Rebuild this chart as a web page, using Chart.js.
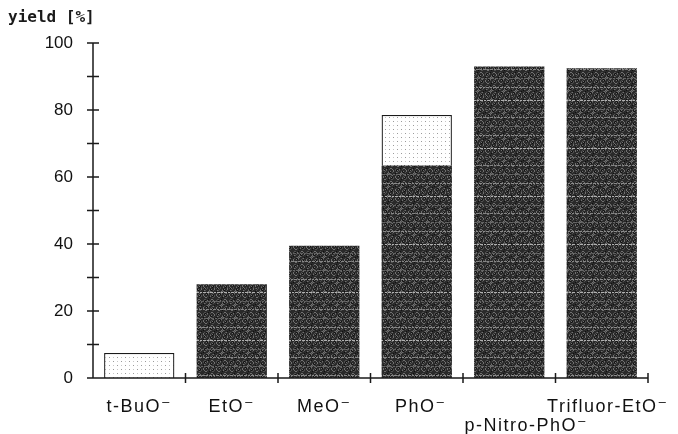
<!DOCTYPE html>
<html><head><meta charset="utf-8">
<script src="https://cdn.jsdelivr.net/npm/chart.js@4/dist/chart.umd.min.js"></script>
<style>html,body{margin:0;padding:0;background:#fff}#wrap{width:678px;height:434px}</style>
</head><body><div id="wrap"><canvas id="c"></canvas></div>
<script>
const categories = ['t-BuO⁻', 'EtO⁻', 'MeO⁻', 'PhO⁻', 'p-Nitro-PhO⁻', 'Trifluor-EtO⁻'];
const darkYield = [0, 28, 39.5, 63.5, 93, 92.5];
const lightYield = [7.5, 0, 0, 15, 0, 0];
const yTickLabels = [0, 20, 40, 60, 80, 100];
const yTitle = 'yield [%]';

function darkPattern() {
  const c = document.createElement('canvas');
  c.width = 64; c.height = 48;
  const g = c.getContext('2d');
  g.fillStyle = '#2a2a2a'; g.fillRect(0, 0, 64, 48);
  for (let y = 0; y < 48; y++) {
    for (let x = 0; x < 64; x++) {
      const h = (x * 73 + y * 151 + x * y * 7) % 13;
      if (h === 0 || h === 7) { g.fillStyle = '#707070'; g.fillRect(x, y, 1, 1); }
      else if (h === 3 || h === 10) { g.fillStyle = '#4e4e4e'; g.fillRect(x, y, 1, 1); }
      else if (h === 5) { g.fillStyle = '#101010'; g.fillRect(x, y, 1, 1); }
    }
  }
  [[4, '#b0b0b0'], [13, '#606060'], [21, '#858585'], [30, '#646464'], [39, '#8a8a8a']].forEach(([ry, col], k) => {
    for (let x = 0; x < 64; x++) {
      if ((x * 5 + k * 3) % 7 > 1) { g.fillStyle = col; g.fillRect(x, ry, 1, 1); }
    }
  });
  return g.createPattern(c, 'repeat');
}
function lightPattern() {
  const c = document.createElement('canvas');
  c.width = 8; c.height = 8;
  const g = c.getContext('2d');
  g.fillStyle = '#ffffff'; g.fillRect(0, 0, 8, 8);
  g.fillStyle = '#9a9a9a';
  g.fillRect(1, 1, 1, 1); g.fillRect(5, 5, 1, 1);
  g.fillStyle = '#c8c8c8';
  g.fillRect(5, 1, 1, 1); g.fillRect(1, 5, 1, 1);
  return g.createPattern(c, 'repeat');
}

const labelShift = [0, 0, 0, 4, 17, 6];
const labelLine = [0, 0, 0, 0, 1, 0];

const axisPlugin = {
  id: 'axisTicks',
  afterDatasetsDraw(chart) {
    const { ctx, scales: { x, y }, chartArea: a } = chart;
    ctx.save();
    ctx.strokeStyle = '#1a1a1a';
    ctx.lineWidth = 1.5;
    ctx.beginPath();
    ctx.moveTo(a.left, a.top); ctx.lineTo(a.left, a.bottom); ctx.lineTo(a.right, a.bottom);
    y.ticks.forEach(t => {
      const py = y.getPixelForValue(t.value);
      ctx.moveTo(a.left - 6, py); ctx.lineTo(a.left + 6, py);
    });
    for (let i = 1; i <= categories.length; i++) {
      const px = i < categories.length ? (x.getPixelForValue(i - 1) + x.getPixelForValue(i)) / 2 : a.right;
      ctx.moveTo(px, a.bottom - 5); ctx.lineTo(px, a.bottom + 5);
    }
    ctx.stroke();
    ctx.fillStyle = '#1a1a1a';
    ctx.font = 'bold 16px "DejaVu Sans Mono"';
    ctx.textBaseline = 'middle';
    ctx.textAlign = 'left';
    ctx.fillText(yTitle, 8, 18);
    ctx.fillStyle = '#111';
    ctx.font = '18px "Liberation Sans", "DejaVu Sans"';
    ctx.letterSpacing = '1.5px';
    ctx.textAlign = 'center';
    ctx.textBaseline = 'alphabetic';
    categories.forEach((c, i) => {
      const px = x.getPixelForValue(i) + labelShift[i];
      ctx.fillText(c, px, a.bottom + 34 + labelLine[i] * 19);
    });
    ctx.restore();
  }
};

new Chart(document.getElementById('c'), {
  type: 'bar',
  data: {
    labels: categories,
    datasets: [
      {
        label: 'dark', data: darkYield, backgroundColor: darkPattern(),
        borderWidth: 0, barPercentage: 0.76, categoryPercentage: 1
      },
      {
        label: 'light', data: lightYield, backgroundColor: lightPattern(),
        borderColor: '#1a1a1a',
        borderWidth: ctx => (ctx.raw ? 1.3 : 0),
        barPercentage: 0.76, categoryPercentage: 1
      }
    ]
  },
  options: {
    responsive: true, maintainAspectRatio: false, animation: false,
    layout: { padding: { top: 43, right: 30, left: 0, bottom: 0 } },
    plugins: { legend: { display: false }, tooltip: { enabled: false } },
    scales: {
      x: {
        stacked: true,
        grid: { display: false, drawTicks: false },
        border: { display: false },
        ticks: { display: false },
        afterFit: s => { s.height = 56; }
      },
      y: {
        stacked: true, min: 0, max: 100,
        grid: { display: false, drawTicks: false },
        border: { display: false },
        ticks: {
          stepSize: 10, color: '#111', padding: 20,
          font: { family: 'Liberation Sans', size: 17 },
          callback: v => (yTickLabels.includes(v) ? String(v) : '')
        },
        afterFit: s => { s.width = 93; }
      }
    }
  },
  plugins: [axisPlugin]
});
</script>
</body></html>
